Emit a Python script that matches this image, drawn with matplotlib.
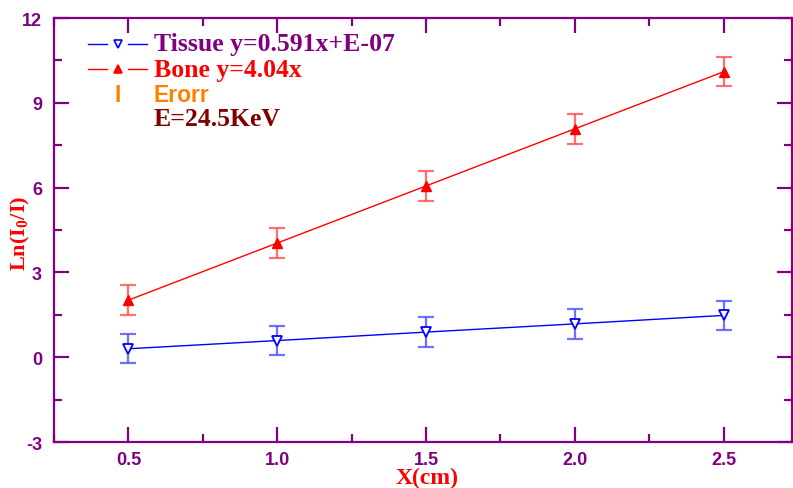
import matplotlib
matplotlib.use("Agg")
import matplotlib.pyplot as plt
from matplotlib.ticker import MultipleLocator

plt.rcParams["axes.unicode_minus"] = False
plt.rcParams["mathtext.fontset"] = "custom"
plt.rcParams["mathtext.rm"] = "Liberation Serif:bold"
plt.rcParams["mathtext.bf"] = "Liberation Serif:bold"

x = [0.5, 1.0, 1.5, 2.0, 2.5]
tissue = [0.30, 0.59, 0.89, 1.18, 1.48]
tissue_err = [0.52, 0.52, 0.52, 0.52, 0.52]
bone = [2.02, 4.04, 6.06, 8.08, 10.10]
bone_err = [0.52, 0.52, 0.52, 0.52, 0.52]
xtick_labels = ["0.5", "1.0", "1.5", "2.0", "2.5"]

purple = "#800080"
fig = plt.figure(figsize=(7.93, 4.89), dpi=100)
ax = fig.add_axes([0.0681, 0.094, 0.9306, 0.867])

ax.errorbar(x, tissue, yerr=tissue_err, fmt="none", ecolor=(0.3, 0.3, 1.0, 0.8),
            elinewidth=1.6, capsize=6, capthick=1.6, zorder=2)
ax.errorbar(x, bone, yerr=bone_err, fmt="none", ecolor=(1.0, 0.3, 0.3, 0.8),
            elinewidth=1.6, capsize=6, capthick=1.6, zorder=2)
ax.plot(x, tissue, color="blue", lw=1, marker="v", ms=7, mfc="white",
        mec="blue", mew=1.3, zorder=3)
ax.plot(x, bone, color="red", lw=1, marker="^", ms=7, mfc="red",
        mec="red", zorder=3)

ax.set_xlim(0.25, 2.73)
ax.set_ylim(-3, 12)
ax.xaxis.set_minor_locator(MultipleLocator(0.25))
ax.yaxis.set_major_locator(MultipleLocator(3))
ax.yaxis.set_minor_locator(MultipleLocator(1.5))
ax.set_xticks(x)
ax.set_xticklabels(xtick_labels)

for s in ax.spines.values():
    s.set_color(purple)
    s.set_linewidth(1.6)
ax.tick_params(which="both", direction="in", top=True, right=True,
               color=purple, width=1.6, labelcolor=purple, labelsize=13)
ax.tick_params(which="major", length=11)
ax.tick_params(axis="x", which="major", pad=6.5)
ax.tick_params(axis="y", which="major", pad=8.6)
ax.tick_params(which="minor", length=6)
for lab in ax.get_xticklabels() + ax.get_yticklabels():
    lab.set_fontweight("bold")
    lab.set_family("Liberation Sans")

ax.set_xlabel("X(cm)", color="red", fontsize=17, fontweight="bold",
              family="Liberation Serif", va="center")
ax.xaxis.set_label_coords(0.505, -0.083)
ax.set_ylabel(r"Ln(I$_\mathbf{0}$/I)", color="red", fontsize=16, fontweight="bold",
              family="Liberation Serif", va="center")
ax.yaxis.set_label_coords(-0.046, 0.495)

# Manual legend
def tr(px, py):
    return ax.transAxes.inverted().transform(fig.transFigure.transform((px / 793, 1 - py / 489)))

for py, col, mk, mfc in [(45, "blue", "v", "white"), (70, "red", "^", "red")]:
    a = tr(88, py)
    ax.plot([a[0], tr(107, py)[0]], [a[1], a[1]], color=col, lw=1, transform=ax.transAxes, clip_on=False)
    ax.plot([tr(128, py)[0], tr(147, py)[0]], [a[1], a[1]], color=col, lw=1, transform=ax.transAxes, clip_on=False)
    m = tr(118, py)
    ax.plot([m[0]], [m[1]], marker=mk, ms=5.5, mfc=mfc, mec=col, mew=1.2,
            transform=ax.transAxes, clip_on=False)

texts = [(45, "Tissue y=0.591x+E-07", purple, "Liberation Serif", 18.5),
         (70, "Bone y=4.04x", "red", "Liberation Serif", 18.5),
         (96, "Erorr", "#FF8000", "Liberation Sans", 16.5),
         (120, "E=24.5KeV", "#800000", "Liberation Serif", 18.5)]
for py, t, c, f, fs in texts:
    p = tr(154, py)
    ax.text(p[0], p[1], t, color=c, fontsize=fs,
            fontweight="bold", family=f, va="center", ha="left", transform=ax.transAxes)
p = tr(118, 96)
ax.text(p[0], p[1], "I", color="#FF8000", fontsize=16.5, fontweight="bold",
        family="Liberation Sans", va="center", ha="center", transform=ax.transAxes)

fig.savefig("out.png", dpi=100)
